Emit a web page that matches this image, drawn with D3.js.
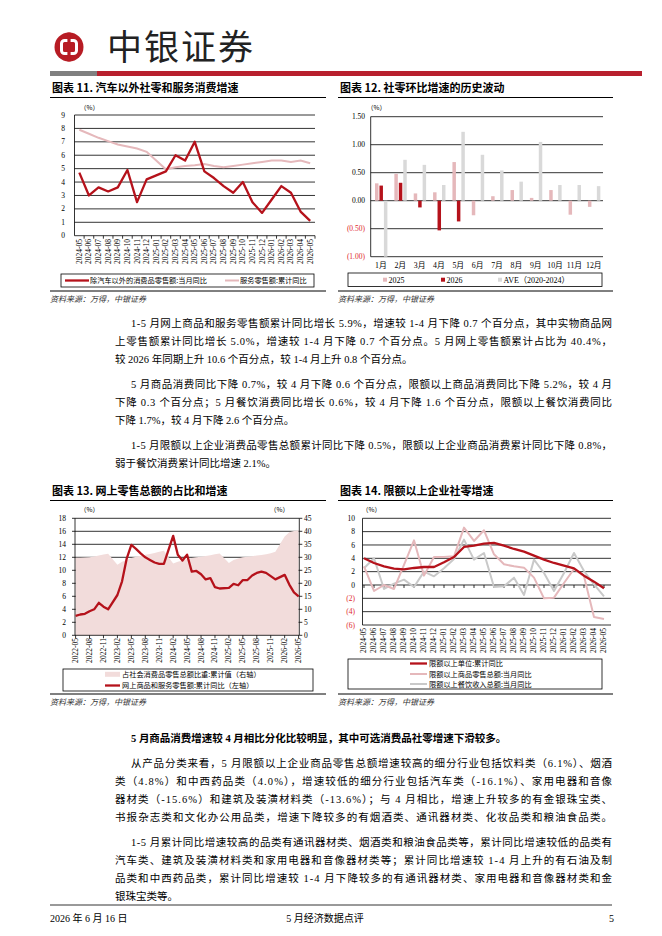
<!DOCTYPE html>
<html lang="zh">
  <head>
    <meta charset="UTF-8" />
    <title>5月经济数据点评</title>
    <script src="https://d3js.org/d3.v7.min.js"></script>
    <style>
      body { margin: 0; background: #fff; }
      svg { display: block; }
    </style>
  </head>
  <body>
    <svg></svg>
    <script>
      // ---- chart 11: ex-auto retail and services
      const retailMonths = ["2024-05","2024-06","2024-07","2024-08","2024-09","2024-10","2024-11","2024-12",
        "2025-01","2025-02","2025-03","2025-04","2025-05","2025-06","2025-07","2025-08","2025-09","2025-10",
        "2025-11","2025-12","2026-01","2026-02","2026-03","2026-04","2026-05"];
      const exAutoMonthly = [4.7, 3.0, 3.6, 3.3, 3.6, 4.9, 2.5, 4.2, 4.5, 4.8, 6.0, 5.6, 7.0, 4.8, 4.3, 3.7, 3.2, 4.0, 2.5, 1.7, 2.7, 3.7, 3.2, 1.8, 1.1];
      const serviceCum = [7.9, 7.6, 7.3, 7.05, 6.8, 6.65, 6.5, 6.25, null, 4.95, 5.1, 5.2, 5.25, 5.35, 5.2, 5.1, 5.2, 5.3, 5.4, 5.5, 5.6, 5.6, 5.5, 5.6, 5.4];

      // ---- chart 12: month-on-month retail
      const momMonths = ["1月","2月","3月","4月","5月","6月","7月","8月","9月","10月","11月","12月"];
      const mom2025 = [0.31, 0.48, 0.13, 0.15, 0.69, -0.26, 0.08, 0.19, 0.05, 0.19, -0.25, -0.11];
      const mom2026 = [0.27, 0.32, -0.12, -0.53, -0.37, null, null, null, null, null, null, null];
      const momAve = [-1.0, 0.73, 0.64, 0.28, 1.23, 0.82, 0.54, 0.34, 1.05, 0.28, 0.28, 0.26];
      const momSeries = ["2025", "2026", "AVE（2020-2024）"];

      // ---- chart 13: online retail share and growth
      const onlineMonths = ["2022-05","2022-06","2022-07","2022-08","2022-09","2022-10","2022-11","2022-12",
        "2023-01","2023-02","2023-03","2023-04","2023-05","2023-06","2023-07","2023-08","2023-09","2023-10","2023-11","2023-12",
        "2024-01","2024-02","2024-03","2024-04","2024-05","2024-06","2024-07","2024-08","2024-09","2024-10","2024-11","2024-12",
        "2025-01","2025-02","2025-03","2025-04","2025-05","2025-06","2025-07","2025-08","2025-09","2025-10","2025-11","2025-12",
        "2026-01","2026-02","2026-03","2026-04","2026-05"];
      const onlineShare = [29.8, 29.8, 29.9, 30.0, 30.3, 30.7, 31.1, 31.4, null, 27.1, 28.3, 29.0, 29.7, 30.2, 30.6, 31.0, 31.3, 31.7, 32.1, 32.5,
        null, 27.6, 28.3, 28.8, 29.3, 29.7, 30.0, 30.2, 30.5, 30.8, 31.2, 31.5,
        null, 27.8, 29.0, 29.5, 30.0, 30.2, 30.4, 30.7, 30.9, 31.2, 31.6, 32.1,
        null, 38.0, 39.6, 40.1, 40.4];
      const onlineGrowth = [3.0, 3.2, 3.3, 3.7, 4.0, 5.0, 4.4, 4.0, null, 6.2, 8.3, 11.8, 13.9, 13.3, 12.6, 12.0, 11.6, 11.2, 11.0, 11.0,
        null, 15.3, 12.4, 11.5, 12.4, 9.8, 9.9, 9.4, 8.6, 8.8, 7.4, 7.2,
        null, 7.3, 7.9, 7.7, 8.5, 8.5, 9.2, 9.6, 9.8, 9.6, 9.1, 8.6,
        null, 9.3, 7.8, 6.6, 6.0];
      const onlineTickMonths = ["2022-05","2022-08","2022-11","2023-02","2023-05","2023-08","2023-11","2024-02","2024-05",
        "2024-08","2024-11","2025-02","2025-05","2025-08","2025-11","2026-02","2026-05"];

      // ---- chart 14: above-quota enterprises
      const aboveCum = [4.0, 3.3, 2.8, 2.45, 2.35, 2.55, 2.7, 2.7, 3.4, 4.2, 5.7, 5.9, 6.2, 6.3, 5.9, 5.4, 5.0, 4.4, 3.8, 3.3, 2.9, 2.5, 1.4, 0.5, -0.5];
      const aboveGoods = [2.8, -0.9, 0.0, -0.6, 3.0, 6.7, 1.4, 4.2, 4.2, 4.3, 8.6, 6.6, 8.2, 4.6, 3.1, 2.8, 2.6, 1.1, -2.0, -1.9, 0.3, 2.4, 1.3, -4.8, -5.1];
      const aboveCatering = [2.5, 4.0, -0.6, 0.2, 0.8, -0.3, 2.0, 1.3, 2.5, 3.9, 6.8, 3.8, 4.8, -0.3, -0.2, 1.1, -1.5, 3.8, 1.8, -0.9, 1.8, 4.8, 2.1, 0.1, -1.7];

      const SERIF = '"Liberation Serif", "Noto Sans CJK SC", serif';
      const SANS = '"Noto Sans CJK SC", "Noto Sans", sans-serif';
      const RED = "#B5121B";
      const PINK = "#E5B8BB";
      const GREY = "#C9C9C9";
      const NEG = "#E0282E";

      const svg = d3.select("svg").attr("width", 662).attr("height", 936);

      function hline(g, x1, x2, y, w, c) {
        g.append("line").attr("x1", x1).attr("x2", x2).attr("y1", y).attr("y2", y)
          .attr("stroke", c || "#000").attr("stroke-width", w || 0.8);
      }
      function vline(g, x, y1, y2, w) {
        g.append("line").attr("x1", x).attr("x2", x).attr("y1", y1).attr("y2", y2)
          .attr("stroke", "#000").attr("stroke-width", w || 0.8);
      }
      function label(g, x, y, s, size, anchor, fam) {
        return g.append("text").attr("x", x).attr("y", y).attr("font-size", size)
          .attr("font-family", fam || SERIF).attr("text-anchor", anchor || "start").text(s);
      }
      function chartTitle(x0, x1, y, s) {
        label(svg, x0 + 2, y, s, 11, "start", SANS).attr("font-weight", 700);
        hline(svg, x0, x1, y + 5.5, 1);
      }
      function sourceNote(x0, x1, y) {
        hline(svg, x0, x1, y - 9, 1);
        label(svg, x0, y + 2, "资料来源：万得，中银证券", 8, "start", SANS)
          .attr("font-style", "italic").attr("fill", "#333");
      }
      const pack = (keys, vals) => keys.map((k, i) => ({ k, v: vals[i] })).filter(d => d.v != null);

      // ---------- header ----------
      const head = svg.append("g");
      head.append("circle").attr("cx", 69).attr("cy", 47).attr("r", 14.5).attr("fill", "#B71C24");
      head.append("rect").attr("x", 61.5).attr("y", 40.5).attr("width", 15).attr("height", 13).attr("rx", 3)
        .attr("fill", "none").attr("stroke", "#fff").attr("stroke-width", 3);
      head.append("rect").attr("x", 67.4).attr("y", 32.5).attr("width", 3.2).attr("height", 29).attr("fill", "#B71C24");
      label(head, 107, 60, "中银证券", 35, "start", SANS).attr("fill", "#222")
        .attr("textLength", 146).attr("lengthAdjust", "spacing");
      head.append("rect").attr("x", 50).attr("y", 71).attr("width", 47).attr("height", 5).attr("fill", "#808080");
      head.append("rect").attr("x", 97).attr("y", 71).attr("width", 545).attr("height", 5).attr("fill", "#B8202E");

      // ---------- chart 11 ----------
      chartTitle(50, 326, 92, "图表 11. 汽车以外社零和服务消费增速");
      {
        const g = svg.append("g");
        const L = 74.5, R = 315, T = 115, B = 235.7;
        const x = d3.scalePoint().domain(retailMonths).range([L, R]).padding(0.5);
        const y = d3.scaleLinear().domain([0, 9]).range([B, T]);
        d3.range(1, 10).forEach(v => hline(g, L, R, y(v)));
        vline(g, L, T, B);
        hline(g, L, R, B);
        const step = x.step();
        retailMonths.forEach((m, i) => g.append("line").attr("x1", L + step * (i + 1)).attr("x2", L + step * (i + 1))
          .attr("y1", B).attr("y2", B + 3).attr("stroke", "#000").attr("stroke-width", 0.8));
        d3.range(0, 10).forEach(v => label(g, 65, y(v) + 2.6, v, 7.5, "end"));
        label(g, 80, 110, "（%）", 6.5, "start", SANS);
        g.selectAll(".xl").data(retailMonths).join("text")
          .attr("transform", d => `translate(${x(d)},239) rotate(-90)`)
          .attr("text-anchor", "end").attr("dy", "0.33em")
          .attr("font-size", 7.5).attr("font-family", SERIF).text(d => d);
        const line = d3.line().x(d => x(d.k)).y(d => y(d.v));
        g.append("path").attr("d", line(pack(retailMonths, serviceCum))).attr("fill", "none")
          .attr("stroke", PINK).attr("stroke-width", 2);
        g.append("path").attr("d", line(pack(retailMonths, exAutoMonthly))).attr("fill", "none")
          .attr("stroke", RED).attr("stroke-width", 2.3).attr("stroke-linejoin", "round");
        // legend
        g.append("rect").attr("x", 61).attr("y", 274).attr("width", 253).attr("height", 13)
          .attr("fill", "none").attr("stroke", "#000").attr("stroke-width", 0.8);
        hline(g, 65, 89, 280.5, 2.3, RED);
        label(g, 90, 283, "除汽车以外的消费品零售额:当月同比", 7.2, "start", SANS);
        hline(g, 225, 239, 280.5, 2, PINK);
        label(g, 240, 283, "服务零售额:累计同比", 7.2, "start", SANS);
      }
      sourceNote(50, 326, 300);

      // ---------- chart 12 ----------
      chartTitle(338, 613, 92, "图表 12. 社零环比增速的历史波动");
      {
        const g = svg.append("g");
        const L = 370.7, R = 603, T = 116.7, B = 256.7;
        const x = d3.scaleBand().domain(momMonths).range([L, R]);
        const xi = d3.scaleBand().domain(momSeries).range([4.3, 16.7]).paddingInner(0.22);
        const y = d3.scaleLinear().domain([-1, 1.5]).range([B, T]);
        const colors = { "2025": PINK, "2026": RED, "AVE（2020-2024）": "#D9D9D9" };
        const vals = { "2025": mom2025, "2026": mom2026, "AVE（2020-2024）": momAve };
        [-1, -0.5, 0, 0.5, 1, 1.5].forEach(v => {
          hline(g, L, R, y(v));
          label(g, 365, y(v) + 2.6, v < 0 ? `(${(-v).toFixed(2)})` : v.toFixed(2), 7.5, "end")
            .attr("fill", v < 0 ? NEG : "#000");
        });
        vline(g, L, T, B);
        label(g, 367, 110, "（%）", 6.5, "start", SANS);
        momSeries.forEach(s => {
          g.selectAll(null).data(pack(momMonths, vals[s])).join("rect")
            .attr("x", d => x(d.k) + xi(s)).attr("width", xi.bandwidth())
            .attr("y", d => y(Math.max(0, d.v))).attr("height", d => Math.abs(y(d.v) - y(0)))
            .attr("fill", colors[s]);
        });
        g.selectAll(".ml").data(momMonths).join("text")
          .attr("x", d => x(d) + x.bandwidth() / 2 + 0.5).attr("y", 268)
          .attr("text-anchor", "middle").attr("font-size", 7.8).attr("font-family", SERIF).text(d => d);
        g.append("rect").attr("x", 348).attr("y", 273).attr("width", 254).attr("height", 13.5)
          .attr("fill", "none").attr("stroke", "#000").attr("stroke-width", 0.8);
        [[383, "2025"], [441, "2026"], [498, "AVE（2020-2024）"]].forEach(([lx, s]) => {
          g.append("rect").attr("x", lx).attr("y", 277.7).attr("width", 4).attr("height", 4).attr("fill", colors[s]);
          label(g, lx + 5.5, 282.8, s, 8, "start");
        });
      }
      sourceNote(338, 613, 300);

      // ---------- body text ----------
      const bodyLines = [
        { y: 327, x: 131, t: "1-5 月网上商品和服务零售额累计同比增长 5.9%，增速较 1-4 月下降 0.7 个百分点，其中实物商品网", j: 1 },
        { y: 345, x: 115, t: "上零售额累计同比增长 5.0%，增速较 1-4 月下降 0.7 个百分点。5 月网上零售额累计占比为 40.4%，", j: 1 },
        { y: 363, x: 115, t: "较 2026 年同期上升 10.6 个百分点，较 1-4 月上升 0.8 个百分点。" },
        { y: 388, x: 131, t: "5 月商品消费同比下降 0.7%，较 4 月下降 0.6 个百分点，限额以上商品消费同比下降 5.2%，较 4 月", j: 1 },
        { y: 406, x: 115, t: "下降 0.3 个百分点；5 月餐饮消费同比增长 0.6%，较 4 月下降 1.6 个百分点，限额以上餐饮消费同比", j: 1 },
        { y: 424, x: 115, t: "下降 1.7%，较 4 月下降 2.6 个百分点。" },
        { y: 449, x: 131, t: "1-5 月限额以上企业消费品零售总额累计同比下降 0.5%，限额以上企业商品消费累计同比下降 0.8%，", j: 1 },
        { y: 467, x: 115, t: "弱于餐饮消费累计同比增速 2.1%。" },
        { y: 742, x: 131, t: "5 月商品消费增速较 4 月相比分化比较明显，其中可选消费品社零增速下滑较多。", b: 1 },
        { y: 767, x: 131, t: "从产品分类来看，5 月限额以上企业商品零售总额增速较高的细分行业包括饮料类（6.1%）、烟酒", j: 1 },
        { y: 785, x: 115, t: "类（4.8%）和中西药品类（4.0%），增速较低的细分行业包括汽车类（-16.1%）、家用电器和音像", j: 1 },
        { y: 803, x: 115, t: "器材类（-15.6%）和建筑及装潢材料类（-13.6%）；与 4 月相比，增速上升较多的有金银珠宝类、", j: 1 },
        { y: 821, x: 115, t: "书报杂志类和文化办公用品类，增速下降较多的有烟酒类、通讯器材类、化妆品类和粮油食品类。", j: 1 },
        { y: 846, x: 131, t: "1-5 月累计同比增速较高的品类有通讯器材类、烟酒类和粮油食品类等，累计同比增速较低的品类有", j: 1 },
        { y: 864, x: 115, t: "汽车类、建筑及装潢材料类和家用电器和音像器材类等；累计同比增速较 1-4 月上升的有石油及制", j: 1 },
        { y: 882, x: 115, t: "品类和中西药品类，累计同比增速较 1-4 月下降较多的有通讯器材类、家用电器和音像器材类和金", j: 1 },
        { y: 900, x: 115, t: "银珠宝类等。" }
      ];
      bodyLines.forEach(d => {
        const t = label(svg, d.x, d.y, d.t, 10.5, "start", SERIF);
        if (d.j) t.attr("textLength", 612 - d.x).attr("lengthAdjust", "spacing");
        if (d.b) t.attr("font-weight", 700);
      });

      // ---------- chart 13 ----------
      chartTitle(50, 326, 495, "图表 13. 网上零售总额的占比和增速");
      {
        const g = svg.append("g");
        const L = 75, R = 299.3, T = 518.3, B = 635.3;
        const x = d3.scalePoint().domain(onlineMonths).range([75.6, 298.6]);
        const yl = d3.scaleLinear().domain([0, 18]).range([B, T]);
        const yr = d3.scaleLinear().domain([0, 45]).range([B, T]);
        d3.range(2, 20, 2).forEach(v => hline(g, L, R, yl(v)));
        const share = pack(onlineMonths, onlineShare);
        g.append("path").attr("fill", "#F2DCDB")
          .attr("d", d3.area().x(d => x(d.k)).y0(B).y1(d => yr(d.v))(share));
        vline(g, L, T, B);
        vline(g, R, T, B);
        hline(g, L, R, B);
        d3.range(0, 20, 2).forEach(v => {
          g.append("line").attr("x1", L - 3).attr("x2", L).attr("y1", yl(v)).attr("y2", yl(v)).attr("stroke", "#000").attr("stroke-width", 0.8);
          label(g, 66, yl(v) + 2.6, v, 7.5, "end");
        });
        d3.range(0, 50, 5).forEach(v => {
          g.append("line").attr("x1", R).attr("x2", R + 3).attr("y1", yr(v)).attr("y2", yr(v)).attr("stroke", "#000").attr("stroke-width", 0.8);
          label(g, 304, yr(v) + 2.6, v, 7.5, "start");
        });
        label(g, 80, 512, "（%）", 6.5, "start", SANS);
        label(g, 270, 512, "（%）", 6.5, "start", SANS);
        onlineTickMonths.forEach(m => g.append("line").attr("x1", x(m)).attr("x2", x(m))
          .attr("y1", B).attr("y2", B + 3).attr("stroke", "#000").attr("stroke-width", 0.8));
        g.selectAll(".xl").data(onlineTickMonths).join("text")
          .attr("transform", d => `translate(${x(d)},638) rotate(-90)`)
          .attr("text-anchor", "end").attr("dy", "0.33em")
          .attr("font-size", 7.5).attr("font-family", SERIF).text(d => d);
        g.append("path").attr("d", d3.line().x(d => x(d.k)).y(d => yl(d.v))(pack(onlineMonths, onlineGrowth)))
          .attr("fill", "none").attr("stroke", RED).attr("stroke-width", 2.3).attr("stroke-linejoin", "round");
        g.append("rect").attr("x", 63).attr("y", 669).attr("width", 250).attr("height", 22)
          .attr("fill", "none").attr("stroke", "#000").attr("stroke-width", 0.8);
        g.append("rect").attr("x", 105).attr("y", 671.8).attr("width", 15).attr("height", 5).attr("fill", "#F2DCDB");
        label(g, 122, 677, "占社会消费品零售总额比重:累计值（右轴）", 7.2, "start", SANS);
        hline(g, 105, 120, 685.5, 2.3, RED);
        label(g, 122, 688, "网上商品和服务零售额:累计同比（左轴）", 7.2, "start", SANS);
      }
      sourceNote(50, 326, 703);

      // ---------- chart 14 ----------
      chartTitle(338, 613, 495, "图表 14. 限额以上企业社零增速");
      {
        const g = svg.append("g");
        const L = 362.5, R = 611, T = 518.3, B = 625;
        const x = d3.scalePoint().domain(retailMonths).range([364, 604]);
        const y = d3.scaleLinear().domain([-6, 10]).range([B, T]);
        d3.range(-6, 12, 2).forEach(v => {
          hline(g, L, R, y(v));
          label(g, 355, y(v) + 2.6, v < 0 ? `(${-v})` : v, 7.5, "end").attr("fill", v < 0 ? NEG : "#000");
        });
        vline(g, L, T, B);
        retailMonths.forEach(m => g.append("line").attr("x1", x(m)).attr("x2", x(m))
          .attr("y1", y(0)).attr("y2", y(0) + 3).attr("stroke", "#000").attr("stroke-width", 0.8));
        label(g, 362, 512, "（%）", 6.5, "start", SANS);
        g.selectAll(".xl").data(retailMonths).join("text")
          .attr("transform", d => `translate(${x(d)},628) rotate(-90)`)
          .attr("text-anchor", "end").attr("dy", "0.33em")
          .attr("font-size", 7.5).attr("font-family", SERIF).text(d => d);
        const line = d3.line().x(d => x(d.k)).y(d => y(d.v));
        [[aboveCatering, GREY, 2], [aboveGoods, PINK, 2], [aboveCum, RED, 2.3]].forEach(([vals, c, w]) => {
          g.append("path").attr("d", line(pack(retailMonths, vals))).attr("fill", "none")
            .attr("stroke", c).attr("stroke-width", w).attr("stroke-linejoin", "round");
        });
        g.append("rect").attr("x", 348).attr("y", 659).attr("width", 254).attr("height", 30)
          .attr("fill", "none").attr("stroke", "#000").attr("stroke-width", 0.8);
        [[663.5, RED, 2.3, "限额以上单位:累计同比"], [674, PINK, 2, "限额以上商品零售总额:当月同比"],
          [684, GREY, 2, "限额以上餐饮收入总额:当月同比"]].forEach(([ly, c, w, s]) => {
          hline(g, 410, 427, ly, w, c);
          label(g, 429, ly + 2.5, s, 7.2, "start", SANS);
        });
      }
      sourceNote(338, 613, 703);

      // ---------- footer ----------
      hline(svg, 50, 612, 905, 0.8);
      label(svg, 50, 922, "2026 年 6 月 16 日", 10, "start", SERIF);
      label(svg, 325, 922, "5 月经济数据点评", 10, "middle", SERIF);
      label(svg, 614, 922, "5", 10, "end", SERIF);
    </script>
  </body>
</html>
